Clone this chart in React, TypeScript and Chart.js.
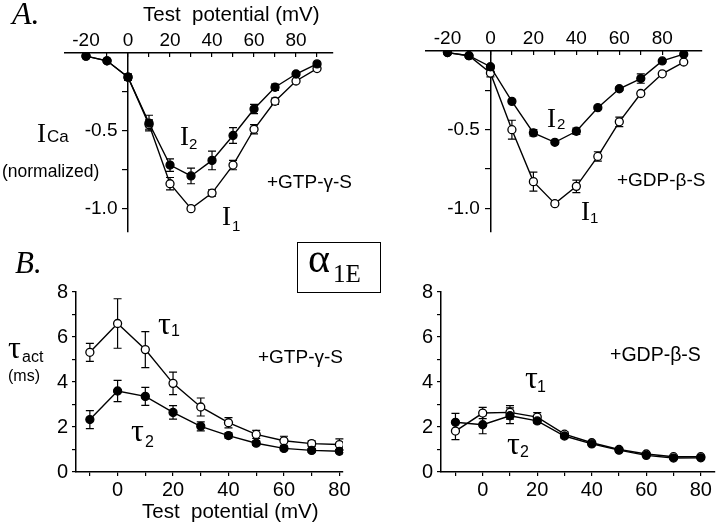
import React, { useEffect, useRef } from 'react';
import { Chart, registerables } from 'chart.js';

Chart.register(...registerables);

// ---------- Data ----------
// Panel A: normalized I-V, test potential (mV)
const potentialsA = [-20, -10, 0, 10, 20, 30, 40, 50, 60, 70, 80, 90];
const gtpI1 = [-0.02, -0.05, -0.155, -0.46, -0.84, -1.0, -0.9, -0.72, -0.49, -0.31, -0.18, -0.1];
const gtpI1Err = [0, 0, 0.02, 0.03, 0.04, 0, 0.02, 0.03, 0.03, 0.02, 0, 0];
const gtpI2 = [-0.02, -0.05, -0.155, -0.45, -0.72, -0.79, -0.69, -0.53, -0.36, -0.22, -0.135, -0.07];
const gtpI2Err = [0, 0, 0.02, 0.05, 0.04, 0.05, 0.06, 0.05, 0.03, 0.02, 0.01, 0];
const gdpI1 = [-0.01, -0.03, -0.14, -0.5, -0.83, -0.97, -0.86, -0.67, -0.45, -0.27, -0.145, -0.07];
const gdpI1Err = [0, 0, 0.025, 0.06, 0.06, 0.01, 0.04, 0.03, 0.03, 0, 0, 0];
const gdpI2 = [-0.01, -0.03, -0.1, -0.32, -0.52, -0.58, -0.51, -0.36, -0.24, -0.175, -0.063, -0.02];
const gdpI2Err = [0, 0, 0.01, 0.01, 0.02, 0.01, 0.02, 0.01, 0.01, 0.03, 0, 0];

// Panel B: activation time constants (ms)
const potentialsB = [-10, 0, 10, 20, 30, 40, 50, 60, 70, 80];
const gtpTau1 = [5.32, 6.6, 5.44, 3.94, 2.89, 2.19, 1.67, 1.39, 1.26, 1.22];
const gtpTau1Err = [0.4, 1.1, 0.8, 0.5, 0.4, 0.23, 0.18, 0.2, 0.12, 0.25];
const gtpTau2 = [2.33, 3.6, 3.36, 2.65, 2.03, 1.62, 1.28, 1.05, 0.96, 0.92];
const gtpTau2Err = [0.4, 0.47, 0.4, 0.3, 0.2, 0.12, 0.1, 0.08, 0.08, 0.06];
const gdpTau1 = [1.82, 2.62, 2.65, 2.44, 1.68, 1.3, 1.0, 0.8, 0.68, 0.68];
const gdpTau1Err = [0.38, 0.25, 0.3, 0.2, 0.1, 0.05, 0.05, 0.05, 0.05, 0.05];
const gdpTau2 = [2.21, 2.1, 2.5, 2.27, 1.6, 1.25, 0.97, 0.74, 0.62, 0.63];
const gdpTau2Err = [0.4, 0.4, 0.35, 0.1, 0.1, 0.05, 0.05, 0.05, 0.05, 0.05];

// Tick values / labels
const xTicksA = [-20, -10, 0, 10, 20, 30, 40, 50, 60, 70, 80, 90];
const xLabelsA = ['-20', '', '0', '', '20', '', '40', '', '60', '', '80', ''];
const yTicksA = [-1.0, -0.75, -0.5, -0.25];
const yLabelsA = ['-1.0', '', '-0.5', ''];
const xTicksB = [-10, 0, 10, 20, 30, 40, 50, 60, 70, 80];
const xLabelsB = ['', '0', '', '20', '', '40', '', '60', '', '80'];
const yTicksB = [0, 1, 2, 3, 4, 5, 6, 7, 8];
const yLabelsB = ['0', '', '2', '', '4', '', '6', '', '8'];

const SANS = "'Liberation Sans', Arial, Helvetica, sans-serif";
const SERIF = "'Liberation Serif', 'Times New Roman', Times, serif";

const errPlugin = {
  id: 'errbars',
  beforeDatasetsDraw(chart: any) {
    const ctx = chart.ctx;
    const ys = chart.scales.y;
    ctx.save();
    ctx.strokeStyle = '#000';
    ctx.lineWidth = 1.2;
    chart.data.datasets.forEach((ds: any, i: number) => {
      const errs = ds.err;
      if (!errs) return;
      const meta = chart.getDatasetMeta(i);
      meta.data.forEach((pt: any, j: number) => {
        const e = errs[j];
        if (!e) return;
        const v = ds.data[j].y;
        const x = pt.x;
        const y1 = ys.getPixelForValue(v + e);
        const y2 = ys.getPixelForValue(v - e);
        ctx.beginPath();
        ctx.moveTo(x, y1);
        ctx.lineTo(x, y2);
        ctx.moveTo(x - 4, y1);
        ctx.lineTo(x + 4, y1);
        ctx.moveTo(x - 4, y2);
        ctx.lineTo(x + 4, y2);
        ctx.stroke();
      });
    });
    ctx.restore();
  },
};

function datasets(xs: number[], filled: number[], filledErr: number[], open: number[], openErr: number[]) {
  const base = {
    borderColor: '#000',
    borderWidth: 1.4,
    pointRadius: 4,
    pointBorderColor: '#000',
    pointBorderWidth: 1.3,
    tension: 0,
    fill: false,
  };
  return [
    { ...base, data: xs.map((x, i) => ({ x, y: filled[i] })), err: filledErr, pointBackgroundColor: '#000' },
    { ...base, data: xs.map((x, i) => ({ x, y: open[i] })), err: openErr, pointBackgroundColor: '#fff' },
  ];
}

function axisCommon(size: number) {
  return {
    grid: { display: true, drawOnChartArea: false, drawTicks: true, tickLength: 4, color: '#000', lineWidth: 1.2 },
    border: { display: true, color: '#000', width: 1.5 },
    ticks: { autoSkip: false, maxRotation: 0, minRotation: 0, color: '#000', font: { family: SANS, size } },
  };
}

function configA(ds: any[], xmin: number, xmax: number, ymin: number, padding: any) {
  const c = axisCommon(19);
  return {
    type: 'line',
    data: { datasets: ds },
    options: {
      responsive: false,
      animation: false,
      devicePixelRatio: 1,
      events: [],
      layout: { padding },
      plugins: { legend: { display: false }, tooltip: { enabled: false } },
      scales: {
        x: {
          type: 'linear',
          position: 'top',
          min: xmin,
          max: xmax,
          afterBuildTicks: (s: any) => { s.ticks = xTicksA.map((v) => ({ value: v })); },
          afterFit: (s: any) => { s.height = 30; },
          grid: { ...c.grid, tickLength: -4 },
          border: c.border,
          ticks: { ...c.ticks, padding: 5, callback: (_v: any, i: number) => xLabelsA[i] },
        },
        y: {
          type: 'linear',
          axis: 'y',
          position: { x: 0 },
          min: ymin,
          max: 0,
          afterBuildTicks: (s: any) => { s.ticks = yTicksA.map((v) => ({ value: v })); },
          grid: { ...c.grid, tickLength: 5 },
          border: c.border,
          // labels of an axis crossing at x=0 sit right on the line; pad them with spaces
          ticks: { ...c.ticks, padding: 3, callback: (_v: any, i: number) => (yLabelsA[i] ? yLabelsA[i] + '  ' : '') },
        },
      },
    },
    plugins: [errPlugin],
  };
}

function configB(ds: any[], xmin: number, xmax: number, padding: any) {
  const c = axisCommon(20);
  return {
    type: 'line',
    data: { datasets: ds },
    options: {
      responsive: false,
      animation: false,
      devicePixelRatio: 1,
      events: [],
      layout: { padding },
      plugins: { legend: { display: false }, tooltip: { enabled: false } },
      scales: {
        x: {
          type: 'linear',
          position: 'bottom',
          min: xmin,
          max: xmax,
          afterBuildTicks: (s: any) => { s.ticks = xTicksB.map((v) => ({ value: v })); },
          afterFit: (s: any) => { s.height = 30; },
          grid: c.grid,
          border: c.border,
          ticks: { ...c.ticks, padding: 2, callback: (_v: any, i: number) => xLabelsB[i] },
        },
        y: {
          type: 'linear',
          position: 'left',
          min: 0,
          max: 8,
          afterBuildTicks: (s: any) => { s.ticks = yTicksB.map((v) => ({ value: v })); },
          afterFit: (s: any) => { s.width = 40; },
          grid: c.grid,
          border: c.border,
          ticks: { ...c.ticks, padding: 4, callback: (_v: any, i: number) => yLabelsB[i] },
        },
      },
    },
    plugins: [errPlugin],
  };
}

function Panel({ left, top, width, height, config }: any) {
  const ref = useRef<HTMLCanvasElement | null>(null);
  useEffect(() => {
    const chart = new Chart(ref.current as HTMLCanvasElement, config);
    return () => chart.destroy();
  }, []);
  return (
    <div style={{ position: 'absolute', left, top, width, height }}>
      <canvas ref={ref} width={width} height={height} style={{ display: 'block', width, height }} />
    </div>
  );
}

function T({ x, y, size, serif, italic, children }: any) {
  return (
    <div
      style={{
        position: 'absolute',
        left: x,
        top: y,
        fontSize: size,
        lineHeight: 1,
        fontFamily: serif ? SERIF : SANS,
        fontStyle: italic ? 'italic' : 'normal',
        whiteSpace: 'pre',
        color: '#000',
      }}
    >
      {children}
    </div>
  );
}

export default function App() {
  const cfgAL = configA(datasets(potentialsA, gtpI2, gtpI2Err, gtpI1, gtpI1Err), -30, 97.6, -1.15, { left: 65, right: 27, top: 23, bottom: 18 });
  const cfgAR = configA(datasets(potentialsA, gdpI2, gdpI2Err, gdpI1, gdpI1Err), -30, 98.5, -1.15, { left: 66, right: 18, top: 21, bottom: 18 });
  const cfgBL = configB(datasets(potentialsB, gtpTau2, gtpTau2Err, gtpTau1, gtpTau1Err), -15, 81.3, { left: 36, right: 17, top: 22, bottom: 24 });
  const cfgBR = configB(datasets(potentialsB, gdpTau2, gdpTau2Err, gdpTau1, gdpTau1Err), -15.3, 85.1, { left: 41, right: 4, top: 22, bottom: 24 });

  return (
    <div style={{ position: 'absolute', left: 0, top: 0, width: 720, height: 526, background: '#fff', overflow: 'hidden' }}>
      <Panel left={0} top={0} width={360} height={250} config={cfgAL} />
      <Panel left={360} top={0} width={360} height={250} config={cfgAR} />
      <Panel left={0} top={270} width={360} height={256} config={cfgBL} />
      <Panel left={360} top={270} width={360} height={256} config={cfgBR} />

      {/* Panel A texts */}
      <T x={12} y={-3} size={32} serif italic>A.</T>
      <T x={143} y={4} size={20.5}>{'Test  potential (mV)'}</T>
      <T x={37} y={120} size={27} serif>I</T>
      <T x={47} y={128} size={17}>Ca</T>
      <T x={2} y={163} size={17.5}>(normalized)</T>
      <T x={180} y={123} size={27} serif>I</T>
      <T x={189} y={136} size={15}>2</T>
      <T x={222} y={203} size={27} serif>I</T>
      <T x={232} y={218} size={15}>1</T>
      <T x={267} y={172} size={19}>+GTP-γ-S</T>

      <T x={547} y={105} size={27} serif>I</T>
      <T x={557} y={116} size={15}>2</T>
      <T x={581} y={198} size={27} serif>I</T>
      <T x={590} y={210} size={15}>1</T>
      <T x={617} y={170} size={19}>+GDP-β-S</T>

      {/* Panel B texts */}
      <T x={15} y={247} size={31} serif italic>B.</T>
      <div style={{ position: 'absolute', left: 297, top: 242, width: 84, height: 51, border: '1.5px solid #000', boxSizing: 'border-box' }} />
      <T x={308} y={237} size={42} serif>α</T>
      <T x={333} y={261} size={25} serif>1E</T>

      <T x={8} y={331} size={32} serif>τ</T>
      <T x={22} y={349} size={16}>act</T>
      <T x={8} y={368} size={16}>(ms)</T>
      <T x={158} y={307} size={32} serif>τ</T>
      <T x={171} y={323} size={16}>1</T>
      <T x={131} y={414} size={32} serif>τ</T>
      <T x={145} y={434} size={16}>2</T>
      <T x={258} y={347} size={19}>+GTP-γ-S</T>
      <T x={142} y={501} size={20.5}>{'Test  potential (mV)'}</T>

      <T x={525} y={361} size={32} serif>τ</T>
      <T x={537} y={379} size={16}>1</T>
      <T x={507} y={427} size={32} serif>τ</T>
      <T x={520} y={444} size={16}>2</T>
      <T x={610} y={345} size={19.5}>+GDP-β-S</T>
    </div>
  );
}
